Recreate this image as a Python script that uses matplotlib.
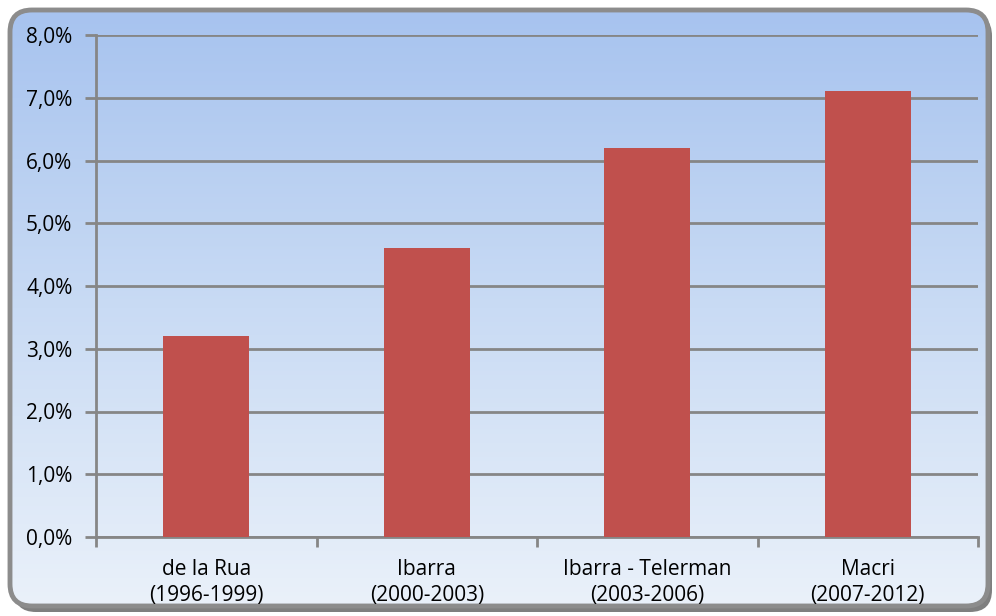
import numpy as np
import matplotlib
matplotlib.use('Agg')
import matplotlib.pyplot as plt
from matplotlib.patches import FancyBboxPatch
from matplotlib.colors import LinearSegmentedColormap
from matplotlib.ticker import FuncFormatter, FixedLocator

# datos
gobiernos = ['de la Rua\n(1996-1999)', 'Ibarra\n(2000-2003)',
             'Ibarra - Telerman\n(2003-2006)', 'Macri\n(2007-2012)']
valores = [3.2, 4.6, 6.2, 7.1]
yticks = [0, 1, 2, 3, 4, 5, 6, 7, 8]

plt.rcParams['font.family'] = ['Open Sans', 'DejaVu Sans']

fig = plt.figure(figsize=(9.96, 6.16), dpi=100)

# fondo con marco redondeado y degradado
bg = fig.add_axes([0, 0, 1, 1])
bg.set_xlim(0, 996)
bg.set_ylim(616, 0)
bg.axis('off')
sombra = FancyBboxPatch((14, 14), 978, 598, boxstyle='round,pad=0,rounding_size=22',
                        fc='#7f7f7f', ec='none', zorder=0)
bg.add_patch(sombra)
marco = FancyBboxPatch((10, 10), 978, 596, boxstyle='round,pad=0,rounding_size=22',
                       fc='none', ec='#8c8c8c', lw=3.5, zorder=3)
bg.add_patch(marco)
cmap = LinearSegmentedColormap.from_list('fondo', ['#a7c3ef', '#c9dbf4', '#eaf1fa'])
grad = np.linspace(0, 1, 256).reshape(-1, 1)
img = bg.imshow(grad, cmap=cmap, extent=(10, 988, 606, 10), aspect='auto', zorder=1)
img.set_clip_path(marco)

ax = fig.add_axes([96/996, 79/616, 882/996, 502/616])
ax.patch.set_alpha(0)
x = np.arange(len(valores))
ax.bar(x, valores, width=0.39, color='#c0504d', zorder=3)
ax.set_xlim(-0.5, 3.5)
ax.set_ylim(0, 8)
ax.set_yticks(yticks)
ax.yaxis.set_major_formatter(FuncFormatter(lambda v, p: f'{v:.1f}%'.replace('.', ',')))
ax.grid(axis='y', color='#868686', lw=2, zorder=1)
ax.set_xticks(x)
ax.set_xticklabels(gobiernos, fontsize=15, linespacing=1.3)
ax.xaxis.set_minor_locator(FixedLocator([-0.5, 0.5, 1.5, 2.5, 3.5]))
ax.tick_params(axis='x', which='major', length=0, pad=16)
ax.tick_params(axis='x', which='minor', length=7, width=2, color='#868686')
ax.tick_params(axis='y', length=8, width=2, color='#868686', labelsize=15, pad=9)
for s in ['top', 'right']:
    ax.spines[s].set_visible(False)
for s in ['left', 'bottom']:
    ax.spines[s].set_color('#868686')
    ax.spines[s].set_linewidth(2)

fig.savefig('out.png', dpi=100)
